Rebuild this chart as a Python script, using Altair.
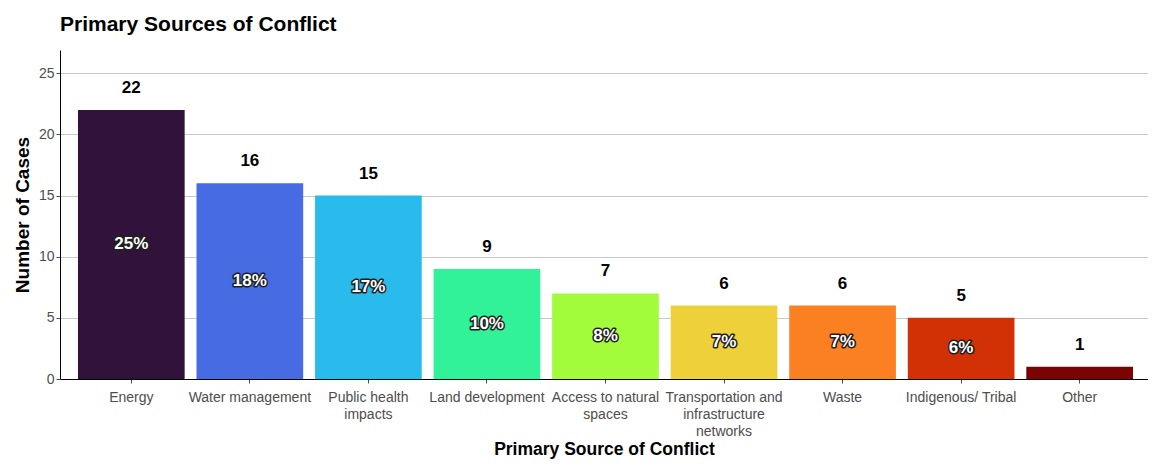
import json
import altair as alt
import pandas as pd

categories = [
    "Energy",
    "Water management",
    "Public health impacts",
    "Land development",
    "Access to natural spaces",
    "Transportation and infrastructure networks",
    "Waste",
    "Indigenous/ Tribal",
    "Other",
]
cases = [22, 16, 15, 9, 7, 6, 6, 5, 1]
pct_labels = ["25%", "18%", "17%", "10%", "8%", "7%", "7%", "6%", ""]
colors = ["#30123b", "#466be3", "#29bbec", "#31f199", "#a2fc3c",
          "#edd03a", "#fb8022", "#d23105", "#7a0403"]
wrapped = {
    "Public health impacts": ["Public health", "impacts"],
    "Access to natural spaces": ["Access to natural", "spaces"],
    "Transportation and infrastructure networks": ["Transportation and", "infrastructure", "networks"],
}

df = pd.DataFrame({"source": categories, "cases": cases, "pct": pct_labels})

label_expr = ""
for k, v in wrapped.items():
    label_expr += f"datum.label == {json.dumps(k)} ? {json.dumps(v)} : "
label_expr += "datum.label"

x = alt.X(
    "source:N",
    sort=categories,
    scale=alt.Scale(paddingInner=0.1, paddingOuter=0.139, align=0.545),
    axis=alt.Axis(
        title="Primary Source of Conflict",
        labelAngle=0,
        labelExpr=label_expr,
        labelFontSize=14,
        labelColor="#4d4d4d",
        labelPadding=7,
        labelLineHeight=17,
        labelLimit=300,
        tickSize=4,
        tickColor="#4d4d4d",
        domainColor="black",
        titleFontSize=17.5,
        titleFontWeight="bold",
        titleColor="black",
        titlePadding=2,
        grid=False,
    ),
)
y_axis = alt.Axis(
    title="Number of Cases",
    values=[0, 5, 10, 15, 20, 25],
    labelFontSize=14,
    labelColor="#4d4d4d",
    labelPadding=2,
    tickSize=4,
    tickColor="#4d4d4d",
    domainColor="black",
    gridColor="#c8c8c8",
    gridWidth=1,
    titleFontSize=19,
    titleFontWeight="bold",
    titleColor="black",
    titlePadding=6,
)
yscale = alt.Scale(domain=[0, 26.9], nice=False)

base = alt.Chart(df)

bars = base.mark_bar().encode(
    x=x,
    y=alt.Y("cases:Q", scale=yscale, axis=y_axis),
    color=alt.Color("source:N", scale=alt.Scale(domain=categories, range=colors), legend=None),
)

values = base.mark_text(dy=-22, fontSize=17, fontWeight="bold", color="black", baseline="middle").encode(
    x=alt.X("source:N", sort=categories),
    y=alt.Y("cases:Q", scale=yscale),
    text="cases:Q",
)

half = base.transform_calculate(half="datum.cases / 2")

halo = half.mark_text(fontSize=17, fontWeight="bold", color="#1e1e1e", stroke="#1e1e1e",
                      strokeWidth=3, strokeJoin="round", baseline="middle").encode(
    x=alt.X("source:N", sort=categories),
    y=alt.Y("half:Q", scale=yscale),
    text="pct:N",
)
pct = half.mark_text(fontSize=17, fontWeight="bold", color="white", baseline="middle").encode(
    x=alt.X("source:N", sort=categories),
    y=alt.Y("half:Q", scale=yscale),
    text="pct:N",
)

chart = (
    alt.layer(bars, values, halo, pct)
    .properties(
        width=1088,
        height=329,
        autosize=alt.AutoSizeParams(type="none"),
        padding={"left": 52, "top": 42, "right": 0, "bottom": 81},
        title=alt.TitleParams(
            "Primary Sources of Conflict",
            anchor="start",
            frame="group",
            fontSize=21,
            fontWeight="bold",
            color="black",
            offset=15,
        ),
    )
    .configure(font="Liberation Sans")
    .configure_view(stroke=None)
)

chart.save("out.html", embed_options={"renderer": "svg", "actions": False})
